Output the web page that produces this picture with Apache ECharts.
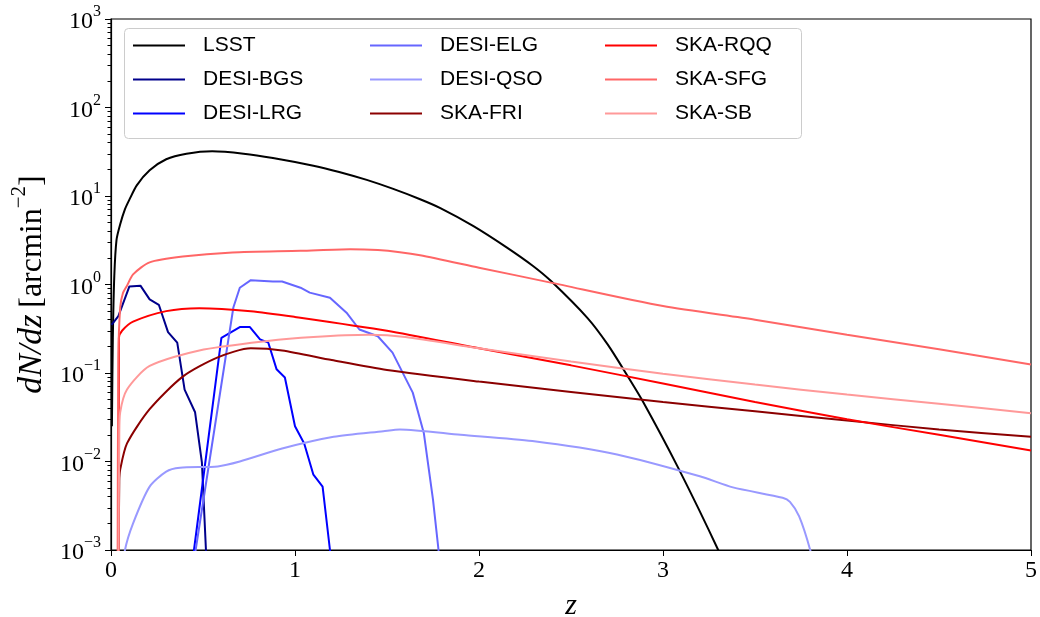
<!DOCTYPE html>
<html>
<head>
<meta charset="utf-8">
<script src="https://cdn.jsdelivr.net/npm/echarts@6/dist/echarts.min.js"></script>
<style>
  html, body { margin: 0; padding: 0; background: #fff; }
  #chart { width: 1040px; height: 617px; }
</style>
</head>
<body>
<div id="chart"></div>
<script>
// [z, dN/dz] per survey
const lsst = [[0.005, 0.025], [0.01, 0.25], [0.018, 1.26], [0.03, 3.2], [0.05, 4.8], [0.076, 7.1], [0.10, 9.1], [0.14, 13.2], [0.21, 19.5], [0.30, 26], [0.41, 30], [0.55, 32], [0.72, 30.1], [0.88, 26.9], [1.10, 22.0], [1.24, 18.7], [1.39, 15.2], [1.53, 12.1], [1.68, 9.2], [1.79, 7.3], [1.97, 4.57], [2.15, 2.63], [2.29, 1.64], [2.39, 1.1], [2.59, 0.417], [2.70, 0.209], [2.80, 0.098], [2.89, 0.048], [3.08, 0.0087], [3.30, 0.001], [3.34, 0.0006]];
const desiBgs = [[0.003, 0.35], [0.04, 0.44], [0.10, 0.95], [0.16, 0.97], [0.21, 0.68], [0.26, 0.59], [0.31, 0.29], [0.36, 0.22], [0.40, 0.065], [0.457, 0.036], [0.494, 0.0098], [0.516, 0.001], [0.52, 0.0006]];
const desiLrg = [[0.448, 0.0006], [0.451, 0.001], [0.60, 0.25], [0.70, 0.33], [0.755, 0.33], [0.81, 0.24], [0.855, 0.22], [0.90, 0.11], [0.945, 0.089], [1.0, 0.025], [1.05, 0.016], [1.10, 0.0071], [1.15, 0.0052], [1.19, 0.001], [1.195, 0.0006]];
const desiElg = [[0.457, 0.0006], [0.46, 0.001], [0.665, 0.55], [0.70, 0.92], [0.76, 1.12], [0.88, 1.08], [0.93, 1.08], [1.03, 0.92], [1.08, 0.81], [1.19, 0.71], [1.28, 0.48], [1.35, 0.31], [1.45, 0.26], [1.53, 0.17], [1.64, 0.06], [1.70, 0.021], [1.75, 0.0037], [1.78, 0.001], [1.785, 0.0006]];
const desiQso = [[0.07, 0.0006], [0.076, 0.001], [0.12, 0.002], [0.21, 0.0052], [0.30, 0.0077], [0.375, 0.0085], [0.58, 0.0088], [0.70, 0.010], [0.93, 0.014], [1.21, 0.019], [1.48, 0.022], [1.57, 0.023], [1.90, 0.020], [2.29, 0.017], [2.75, 0.012], [3.2, 0.0068], [3.38, 0.0051], [3.65, 0.0039], [3.69, 0.0035], [3.74, 0.0024], [3.80, 0.001], [3.82, 0.0006]];
const skaFri = [[0.041, 0.0006], [0.045, 0.006], [0.05, 0.0081], [0.087, 0.016], [0.21, 0.039], [0.39, 0.091], [0.58, 0.15], [0.76, 0.19], [0.93, 0.18], [1.2, 0.14], [1.5, 0.108], [2.0, 0.08], [2.5, 0.061], [3.0, 0.047], [3.5, 0.037], [4.0, 0.029], [4.5, 0.023], [5.0, 0.019]];
const skaRqq = [[0.041, 0.0006], [0.043, 0.25], [0.06, 0.3], [0.12, 0.38], [0.30, 0.50], [0.48, 0.54], [0.76, 0.50], [1.0, 0.43], [1.5, 0.30], [2.0, 0.19], [2.5, 0.122], [3.0, 0.076], [3.5, 0.047], [4.0, 0.030], [4.5, 0.020], [5.0, 0.0133]];
const skaSfg = [[0.036, 0.0006], [0.04, 0.15], [0.05, 0.55], [0.065, 0.8], [0.087, 0.97], [0.12, 1.3], [0.21, 1.78], [0.39, 2.07], [0.66, 2.3], [1.03, 2.4], [1.30, 2.5], [1.45, 2.45], [1.57, 2.32], [1.68, 2.14], [2.0, 1.55], [2.39, 1.05], [3.0, 0.57], [3.5, 0.40], [4.0, 0.27], [4.5, 0.185], [5.0, 0.125]];
const skaSb = [[0.041, 0.0006], [0.045, 0.02], [0.05, 0.036], [0.087, 0.065], [0.21, 0.12], [0.48, 0.18], [0.85, 0.23], [1.1, 0.255], [1.4, 0.27], [1.6, 0.255], [2.0, 0.19], [2.5, 0.135], [3.0, 0.098], [3.5, 0.074], [4.0, 0.057], [4.5, 0.045], [5.0, 0.035]];

const names = ["LSST", "DESI-BGS", "DESI-LRG", "DESI-ELG", "DESI-QSO", "SKA-FRI", "SKA-RQQ", "SKA-SFG", "SKA-SB"];
const curves = [lsst, desiBgs, desiLrg, desiElg, desiQso, skaFri, skaRqq, skaSfg, skaSb];
const colors = ["#000000", "#00008b", "#0000ff", "#6666ff", "#9999ff", "#8b0000", "#ff0000", "#ff6666", "#ff9999"];
// the DESI BGS/LRG/ELG curves are drawn as plain polylines, the rest are smooth
const smoothed = [true, false, false, false, true, true, true, true, true];

const xTicks = [0, 1, 2, 3, 4, 5];
const yMin = 1e-3;
const yMax = 1e3;

const serif = "Liberation Serif";
const sans = "Liberation Sans";

const legendCol = (left, data) => ({
  orient: "vertical",
  left: left,
  top: 35,
  padding: 0,
  icon: "rect",
  itemWidth: 52,
  itemHeight: 2,
  itemGap: 13,
  data: data,
  textStyle: {
    fontFamily: sans,
    fontSize: 21,
    lineHeight: 21,
    color: "#000",
    padding: [0, 0, 0, 13],
  },
});

const options = {
  animation: false,
  backgroundColor: "#fff",
  grid: {
    left: 111,
    right: 9,
    top: 19,
    bottom: 67,
    outerBoundsMode: "none",
    show: true,
    borderColor: "#000",
    borderWidth: 1.2,
  },
  // legend box behind the three columns
  graphic: [
    {
      type: "rect",
      left: 124,
      top: 28,
      z: 3,
      shape: { width: 677, height: 110, r: 4 },
      style: { fill: "rgba(255,255,255,0.85)", stroke: "#cccccc", lineWidth: 1 },
    },
  ],
  legend: [
    legendCol(133, names.slice(0, 3)),
    legendCol(370, names.slice(3, 6)),
    legendCol(605, names.slice(6, 9)),
  ],
  xAxis: {
    type: "value",
    min: xTicks[0],
    max: xTicks[xTicks.length - 1],
    interval: 1,
    name: "z",
    nameLocation: "middle",
    nameGap: 41,
    nameTextStyle: { fontFamily: serif, fontStyle: "italic", fontSize: 30, color: "#000" },
    axisLine: { show: true, lineStyle: { color: "#000", width: 1.2 } },
    axisTick: { show: true, inside: false, length: 6, lineStyle: { color: "#000" } },
    axisLabel: { fontFamily: serif, fontSize: 24, color: "#000", margin: 9 },
    splitLine: { show: false },
  },
  yAxis: {
    type: "log",
    logBase: 10,
    min: yMin,
    max: yMax,
    name: "{i|dN/dz}  {r|[arcmin}{s|−2}{r|]}",
    nameLocation: "middle",
    nameRotate: 90,
    nameGap: 60,
    nameTextStyle: {
      color: "#000",
      rich: {
        i: { fontFamily: serif, fontStyle: "italic", fontSize: 34, lineHeight: 40, verticalAlign: "bottom" },
        r: { fontFamily: serif, fontSize: 32, lineHeight: 40, verticalAlign: "bottom" },
        s: { fontFamily: serif, fontSize: 21, lineHeight: 20, verticalAlign: "top" },
      },
    },
    axisLine: { show: true, lineStyle: { color: "#000", width: 1.2 } },
    axisTick: { show: true, inside: false, length: 6, lineStyle: { color: "#000" } },
    minorTick: { show: true, splitNumber: 9, length: 3.5, lineStyle: { color: "#000" } },
    axisLabel: {
      margin: 10,
      color: "#000",
      formatter: (v) => {
        const e = Math.round(Math.log10(v));
        return "{b|10}{s|" + (e < 0 ? "−" + -e : e) + "}";
      },
      rich: {
        b: { fontFamily: serif, fontSize: 24, lineHeight: 30, verticalAlign: "bottom" },
        s: { fontFamily: serif, fontSize: 16, lineHeight: 16, verticalAlign: "top" },
      },
    },
    splitLine: { show: false },
    minorSplitLine: { show: false },
  },
  series: curves.map((d, i) => ({
    name: names[i],
    type: "line",
    data: d,
    symbol: "none",
    smooth: smoothed[i] ? 0.25 : false,
    clip: true,
    color: colors[i],
    lineStyle: { color: colors[i], width: 2 },
  })),
};

// 图表初始化
const chart = echarts.init(document.getElementById("chart"));
chart.setOption(options);

window.addEventListener("resize", () => {
  chart.resize();
});
</script>
</body>
</html>
